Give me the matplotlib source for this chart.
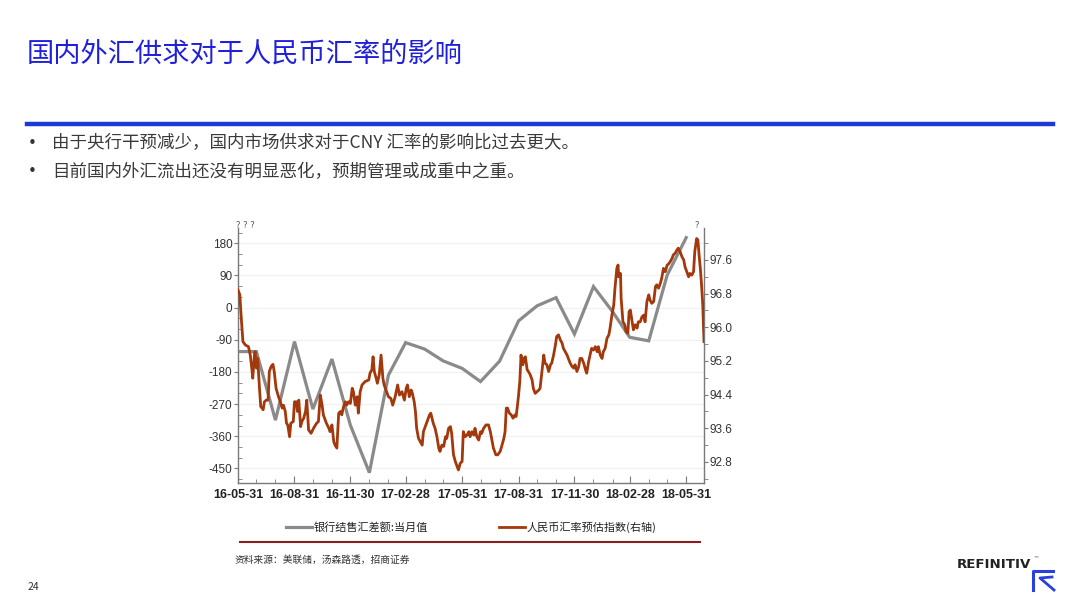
import pandas as pd
import matplotlib
matplotlib.use("Agg")
import matplotlib.pyplot as plt
import matplotlib.dates as mdates
from matplotlib.ticker import MultipleLocator
from matplotlib.lines import Line2D

plt.rcParams['font.family'] = ['Noto Sans CJK SC', 'DejaVu Sans']
plt.rcParams['axes.unicode_minus'] = False

# 银行结售汇差额:当月值 (亿美元), month ends 2016-05 .. 2018-05
fx_months = pd.date_range('2016-05-31', periods=25, freq='ME')
fx_balance = [-123, -123, -315, -95, -284, -144, -329, -462, -189, -98, -116, -149,
              -170, -207, -150, -37, 5, 28, -74, 59, -11, -83, -93, 91, 196]

# 人民币汇率预估指数 (right axis): days after 2016-05-31 and index value
cny_days = [0, 3, 5, 8, 12, 17, 20, 23, 24, 27, 28, 30, 32, 35, 37, 41, 43, 46, 49, 51,
            54, 57, 59, 62, 66, 69, 72, 74, 77, 79, 81, 84, 86, 90, 92, 95, 97, 99, 102, 104,
            107, 110, 112, 115, 119, 123, 128, 131, 134, 137, 139, 144, 148, 150, 153, 156, 158, 161, 164, 167,
            169, 172, 175, 177, 180, 183, 186, 188, 191, 194, 196, 199, 202, 207, 213, 215, 218, 220, 222, 225,
            227, 230, 233, 236, 238, 242, 245, 249, 252, 256, 260, 263, 267, 271, 274, 276, 279, 282, 284, 287,
            289, 291, 294, 297, 300, 302, 305, 308, 312, 314, 318, 321, 324, 327, 329, 332, 335, 338, 340, 343,
            346, 348, 351, 354, 357, 359, 362, 365, 367, 370, 373, 376, 378, 381, 384, 386, 389, 392, 395, 397,
            400, 404, 408, 411, 414, 416, 420, 423, 427, 430, 433, 435, 437, 439, 442, 445, 448, 451, 453, 455,
            457, 459, 461, 462, 464, 466, 468, 471, 473, 476, 479, 481, 484, 487, 490, 492, 495, 498, 500, 503,
            506, 509, 511, 514, 517, 519, 522, 525, 528, 530, 533, 536, 538, 541, 544, 547, 549, 552, 555, 557,
            560, 563, 566, 568, 571, 574, 576, 579, 582, 585, 587, 590, 593, 595, 598, 601, 604, 606, 609, 612,
            614, 617, 619, 620, 623, 624, 627, 630, 632, 635, 637, 639, 642, 644, 647, 650, 652, 655, 658, 661,
            663, 666, 669, 671, 674, 677, 680, 682, 685, 688, 690, 693, 696, 699, 701, 704, 707, 709, 712, 715,
            717, 720, 723, 726, 728, 731, 734, 736, 739, 742, 744, 747, 749, 751, 753, 755, 757, 758, 759]
cny_index = [96.89, 96.77, 96.29, 95.66, 95.58, 95.54, 95.34, 94.95, 94.79, 95.38, 95.42, 95.03, 95.26, 94.55, 94.12, 94.04, 94.23, 94.27, 94.27, 94.95,
             95.07, 95.12, 94.95, 94.55, 94.35, 94.23, 94.08, 94.15, 94.00, 93.72, 93.68, 93.40, 93.72, 93.76, 94.23, 94.23, 94.00, 94.27, 93.64, 93.76,
             93.84, 94.00, 94.27, 93.56, 93.48, 93.60, 93.72, 93.76, 94.39, 94.15, 93.92, 93.72, 93.60, 93.52, 93.68, 93.28, 93.20, 93.13, 93.96, 94.00,
             93.92, 94.12, 94.23, 94.15, 94.23, 94.19, 94.55, 94.47, 94.15, 94.35, 93.96, 94.47, 94.63, 94.71, 94.75, 94.91, 94.99, 95.30, 94.95, 94.79,
             94.67, 94.87, 95.34, 94.79, 94.63, 94.47, 94.35, 94.31, 94.15, 94.35, 94.63, 94.39, 94.47, 94.27, 94.55, 94.63, 94.35, 94.51, 94.43, 94.23,
             94.00, 93.60, 93.36, 93.28, 93.20, 93.52, 93.64, 93.76, 93.92, 93.96, 93.72, 93.60, 93.40, 93.13, 93.05, 93.20, 93.17, 93.40, 93.36, 93.60,
             93.64, 93.48, 92.97, 92.81, 92.69, 92.61, 92.77, 92.81, 93.52, 93.40, 93.44, 93.52, 93.40, 93.52, 93.44, 93.60, 93.40, 93.32, 93.52, 93.48,
             93.60, 93.68, 93.68, 93.52, 93.28, 93.13, 92.97, 92.97, 93.05, 93.20, 93.36, 93.52, 94.08, 94.08, 93.96, 93.92, 93.84, 93.92, 93.88, 94.12,
             94.39, 94.71, 95.34, 95.18, 95.11, 95.26, 95.30, 94.99, 94.95, 94.87, 94.75, 94.55, 94.43, 94.47, 94.51, 94.55, 94.95, 95.34, 95.15, 95.11,
             94.95, 95.11, 95.15, 95.34, 95.58, 95.78, 95.82, 95.70, 95.62, 95.50, 95.42, 95.34, 95.26, 95.15, 95.07, 95.03, 95.11, 94.95, 95.07, 95.26,
             95.26, 95.15, 94.99, 94.91, 95.18, 95.38, 95.50, 95.46, 95.54, 95.42, 95.54, 95.34, 95.26, 95.42, 95.50, 95.74, 95.82, 95.98, 96.29, 96.53,
             96.93, 97.40, 97.48, 97.20, 97.28, 96.69, 96.13, 96.06, 95.90, 95.86, 96.37, 96.41, 96.13, 95.94, 96.06, 95.98, 96.13, 96.13, 96.25, 96.29,
             96.13, 96.61, 96.77, 96.65, 96.57, 96.61, 96.97, 97.01, 96.93, 97.05, 97.16, 97.40, 97.32, 97.48, 97.50, 97.56, 97.64, 97.72, 97.76, 97.84,
             97.88, 97.80, 97.68, 97.60, 97.44, 97.32, 97.20, 97.28, 97.24, 97.32, 97.80, 98.11, 98.08, 97.72, 97.40, 97.01, 96.53, 96.06, 95.66]
cny_dates = pd.Timestamp('2016-05-31') + pd.to_timedelta(cny_days, unit='D')

title = '国内外汇供求对于人民币汇率的影响'
bullets = ['由于央行干预减少，国内市场供求对于CNY 汇率的影响比过去更大。',
           '目前国内外汇流出还没有明显恶化，预期管理或成重中之重。']
legend_labels = ['银行结售汇差额:当月值', '人民币汇率预估指数(右轴)']
source = '资料来源：美联储，汤森路透，招商证券'

W, H = 1080, 608
fig = plt.figure(figsize=(W / 100, H / 100), dpi=100)
fig.patch.set_facecolor('white')

def fx(px):
    return px / W

def fy(py):
    return 1 - py / H

# header
fig.text(fx(27), fy(54), title, fontsize=19.6, color='#2020dc', va='center', ha='left')
fig.add_artist(Line2D([fx(27), fx(1053)], [fy(124), fy(124)], color='#1c3ad6', lw=3.2))
for i, b in enumerate(bullets):
    y = fy(143 + 29 * i)
    fig.text(fx(28), y, '•', fontsize=11, color='#333333', va='center', family=['DejaVu Sans'])
    fig.text(fx(52), y, b, fontsize=12.6, color='#3a3a3a', va='center')

# chart
narrow = ['Liberation Sans Narrow', 'Liberation Sans', 'DejaVu Sans']
gray = '#8a8a8a'
rust = '#a2380c'
axis_col = '#7a7a7a'

ax = fig.add_axes([fx(238), fy(483), fx(704) - fx(238), fy(228) - fy(483)])
ax2 = ax.twinx()

l1, = ax.plot(fx_months, fx_balance, color=gray, lw=2.3, solid_joinstyle='miter', zorder=2)
l2, = ax2.plot(cny_dates, cny_index, color=rust, lw=2.0, zorder=3)

ax.set_xlim(pd.Timestamp('2016-05-31'), pd.Timestamp('2018-06-29'))
ax.set_ylim(-491, 223)
ax2.set_ylim(92.3, 98.36)

ax.yaxis.set_major_locator(MultipleLocator(90))
ax.yaxis.set_minor_locator(MultipleLocator(30))
ax2.yaxis.set_minor_locator(MultipleLocator(0.4))
ax2.set_yticks([92.8, 93.6, 94.4, 95.2, 96.0, 96.8, 97.6])
ax2.yaxis.set_major_formatter(matplotlib.ticker.FormatStrFormatter('%.1f'))

ax.xaxis.set_major_locator(mdates.MonthLocator(bymonth=[2, 5, 8, 11], bymonthday=-1))
ax.xaxis.set_minor_locator(mdates.MonthLocator(bymonthday=-1))
ax.xaxis.set_major_formatter(mdates.DateFormatter('%y-%m-%d'))

ax.grid(axis='y', color='#f0f0f0', lw=0.8)
ax.set_axisbelow(True)

for a in (ax, ax2):
    a.spines['top'].set_visible(False)
    for s in ('left', 'right', 'bottom'):
        a.spines[s].set_color(axis_col)
        a.spines[s].set_linewidth(1.0)
ax.spines['right'].set_visible(False)
ax2.spines['left'].set_visible(False)
ax2.spines['bottom'].set_visible(False)

ax.tick_params(axis='y', which='major', direction='out', length=3, color=axis_col,
               labelsize=8.5, labelcolor='#333333', pad=1)
ax.tick_params(axis='y', which='minor', direction='in', length=3, color=axis_col)
ax.tick_params(axis='x', which='major', direction='in', length=5, color=axis_col,
               labelsize=9, labelcolor='#222222', pad=4)
ax.tick_params(axis='x', which='minor', direction='in', length=3, color=axis_col)
ax2.tick_params(axis='y', which='major', direction='out', length=3, color=axis_col,
                labelsize=8.5, labelcolor='#333333', pad=1)
ax2.tick_params(axis='y', which='minor', direction='out', length=3, color=axis_col)

for t in ax.get_yticklabels() + ax2.get_yticklabels():
    t.set_family(narrow)
for t in ax.get_xticklabels():
    t.set_family(narrow)
    t.set_fontweight('bold')

# unreadable unit marks at the top of both axes
fig.text(fx(236), fy(226), '? ? ?', fontsize=6, color='#555555', va='center', family=['DejaVu Sans'])
fig.text(fx(697), fy(226), '?', fontsize=6, color='#555555', va='center', ha='center', family=['DejaVu Sans'])

fig.legend([l1, l2], legend_labels, loc='center', bbox_to_anchor=(fx(471), fy(527)), ncol=2,
           frameon=False, fontsize=8.0, handlelength=2.4, handletextpad=0.1, columnspacing=6.4,
           labelcolor='#222222')

fig.add_artist(Line2D([fx(240), fx(700)], [fy(542), fy(542)], color='#8b1e1e', lw=1.5))
fig.text(fx(235), fy(560), source, fontsize=7, color='#333333', va='center')

# footer
fig.text(fx(28), fy(587), '24', fontsize=7.5, color='#333333', va='center')
fig.text(fx(957), fy(565), 'REFINITIV', fontsize=9.6, fontweight='bold', color='#222222',
         va='center', family=['DejaVu Sans'])
fig.text(fx(1033), fy(559), '™', fontsize=4, color='#555555', va='center', family=['DejaVu Sans'])
logo_blue = '#2a3fe0'
fig.add_artist(Line2D([fx(1033), fx(1033), fx(1053)], [fy(590), fy(571), fy(571)], color=logo_blue, lw=2.2))
fig.add_artist(Line2D([fx(1052), fx(1040), fx(1054)], [fy(577), fy(578), fy(590)], color=logo_blue, lw=2.0))

fig.savefig('out.png', dpi=100, facecolor='white')
